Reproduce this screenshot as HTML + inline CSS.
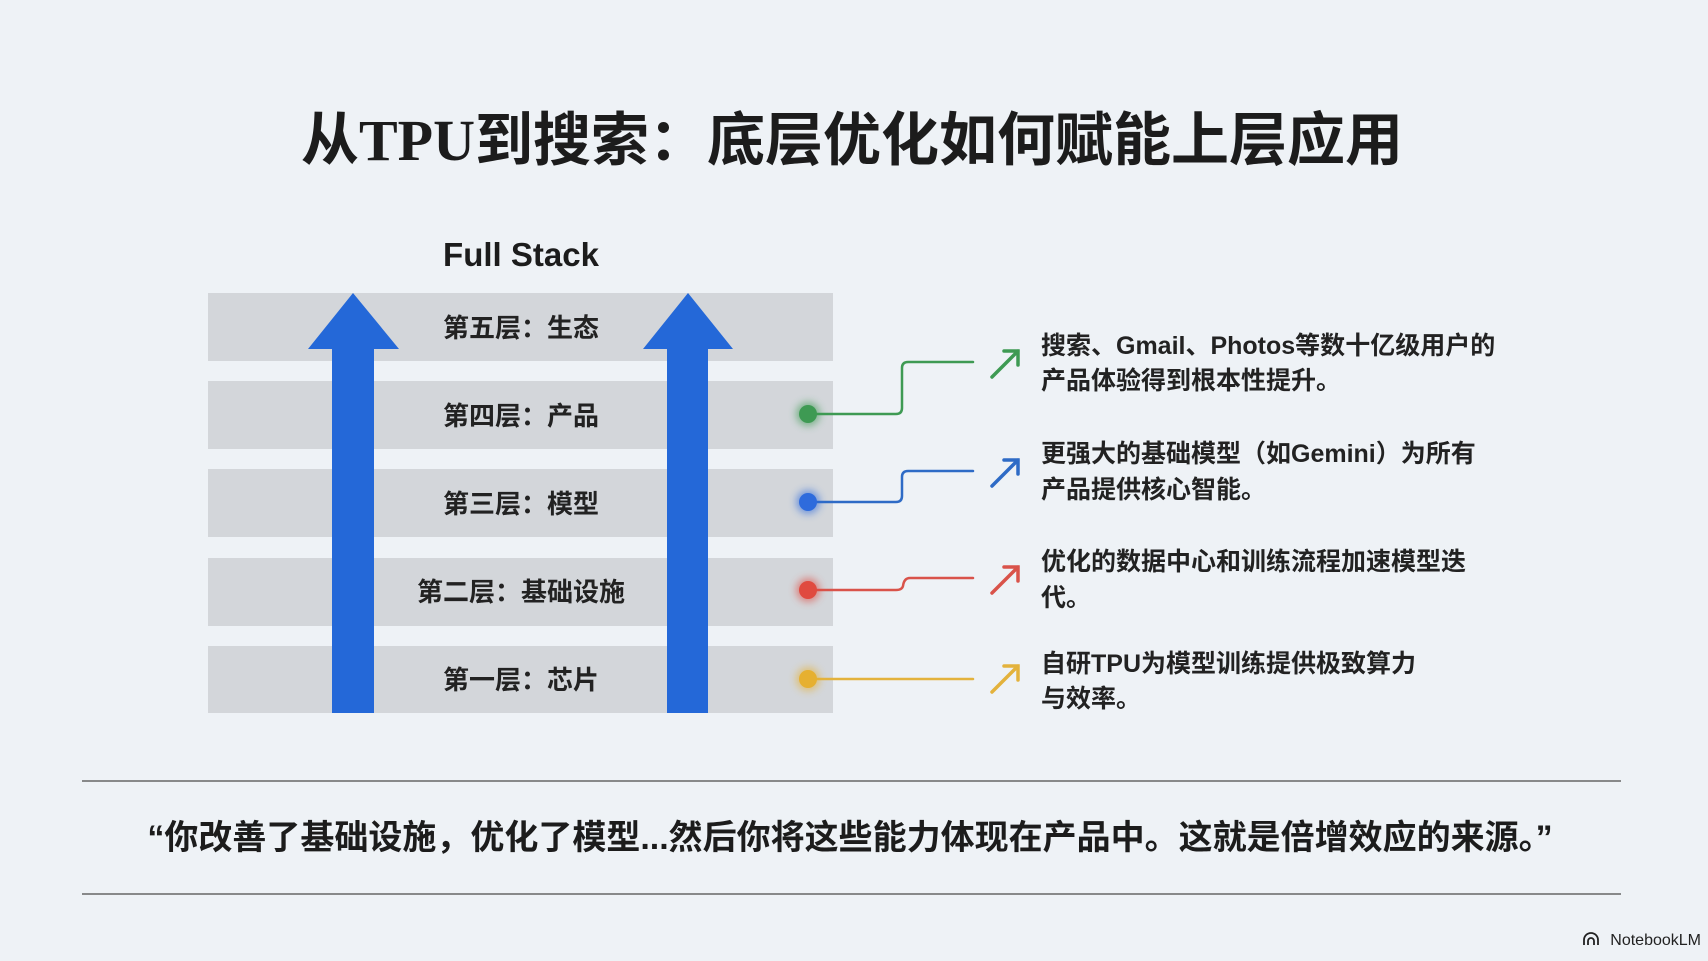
<!DOCTYPE html>
<html><head><meta charset="utf-8"><style>
html,body{margin:0;padding:0;}
body{width:1708px;height:956px;background:#eef2f6;overflow:hidden;font-family:"Liberation Sans","Noto Sans CJK SC",sans-serif;}
svg text{font-family:"Liberation Sans","Noto Sans CJK SC",sans-serif;}
</style></head><body>
<svg width="1708" height="956" viewBox="0 0 1708 956" xmlns="http://www.w3.org/2000/svg">
<defs>
<filter id="glow" x="-100%" y="-100%" width="300%" height="300%"><feGaussianBlur stdDeviation="4"/></filter>
</defs>
<rect width="1708" height="956" fill="#eef2f6"/>
<text x="852" y="160" text-anchor="middle" font-size="58" font-weight="bold" fill="#1c1c1c" style="font-family:'Liberation Serif','Noto Sans CJK SC',sans-serif">从TPU到搜索：底层优化如何赋能上层应用</text>
<text x="521" y="266" text-anchor="middle" font-size="33" font-weight="bold" fill="#1c1c1c">Full Stack</text>
<g fill="#d3d6da">
<rect x="208" y="293" width="625" height="68"/>
<rect x="208" y="381" width="625" height="68"/>
<rect x="208" y="469" width="625" height="68"/>
<rect x="208" y="558" width="625" height="68"/>
<rect x="208" y="646" width="625" height="67"/>
</g>
<g fill="#2468d8">
<polygon points="332,713 374,713 374,349 399,349 353,293 308,349 332,349"/>
<polygon points="667,713 708,713 708,349 733,349 688,293 643,349 667,349"/>
</g>
<g font-size="26" font-weight="bold" fill="#222" text-anchor="middle">
<text x="521" y="337">第五层：生态</text>
<text x="521" y="425">第四层：产品</text>
<text x="521" y="513">第三层：模型</text>
<text x="521" y="601">第二层：基础设施</text>
<text x="521" y="689">第一层：芯片</text>
</g>
<g fill="none" stroke-width="2.5" stroke-linecap="round">
<path d="M808,414 H896 Q902,414 902,408 V368 Q902,362 908,362 H973" stroke="#3e9a53"/>
<path d="M808,502 H896 Q902,502 902,496 V477 Q902,471 908,471 H973" stroke="#2e6bc6"/>
<path d="M808,590 H896 Q902,590 903,586 Q904,578 910,578 H973" stroke="#d9534a"/>
<path d="M808,679 H973" stroke="#e3b23c"/>
<path d="M992,377 L1018,351 M1004,351 H1018 V365" stroke="#3e9a53" stroke-width="3.5"/>
<path d="M992,486 L1018,460 M1004,460 H1018 V474" stroke="#2e6bc6" stroke-width="3.5"/>
<path d="M992,593 L1018,567 M1004,567 H1018 V581" stroke="#d9534a" stroke-width="3.5"/>
<path d="M992,692 L1018,666 M1004,666 H1018 V680" stroke="#e3b23c" stroke-width="3.5"/>
</g>
<g>
<circle cx="808" cy="414" r="12" fill="#3e9a53" opacity="0.6" filter="url(#glow)"/><circle cx="808" cy="414" r="9" fill="#3e9a53"/>
<circle cx="808" cy="502" r="12" fill="#2e6bdc" opacity="0.6" filter="url(#glow)"/><circle cx="808" cy="502" r="9" fill="#2e6bdc"/>
<circle cx="808" cy="590" r="12" fill="#e04a3f" opacity="0.6" filter="url(#glow)"/><circle cx="808" cy="590" r="9" fill="#e04a3f"/>
<circle cx="808" cy="679" r="12" fill="#e6b030" opacity="0.6" filter="url(#glow)"/><circle cx="808" cy="679" r="9" fill="#e6b030"/>
</g>
<g font-size="25" font-weight="bold" fill="#222">
<text x="1041" y="354">搜索、Gmail、Photos等数十亿级用户的</text>
<text x="1041" y="389">产品体验得到根本性提升。</text>
<text x="1041" y="462">更强大的基础模型（如Gemini）为所有</text>
<text x="1041" y="498">产品提供核心智能。</text>
<text x="1041" y="570">优化的数据中心和训练流程加速模型迭</text>
<text x="1041" y="606">代。</text>
<text x="1041" y="672">自研TPU为模型训练提供极致算力</text>
<text x="1041" y="707">与效率。</text>
</g>
<line x1="82" y1="781" x2="1621" y2="781" stroke="#666" stroke-width="1.5"/>
<line x1="82" y1="894" x2="1621" y2="894" stroke="#666" stroke-width="1.5"/>
<text x="850" y="849" text-anchor="middle" font-size="34" font-weight="bold" fill="#1c1c1c">“你改善了基础设施，优化了模型...然后你将这些能力体现在产品中。这就是倍增效应的来源。”</text>
<text x="1701" y="945" text-anchor="end" font-size="16" fill="#222">NotebookLM</text>
<path d="M1584,945 v-5 a7,7 0 0 1 14,0 v5 M1588,945 v-4 a3,3 0 0 1 6,0 v4" fill="none" stroke="#222" stroke-width="1.8"/>
</svg>
</body></html>
